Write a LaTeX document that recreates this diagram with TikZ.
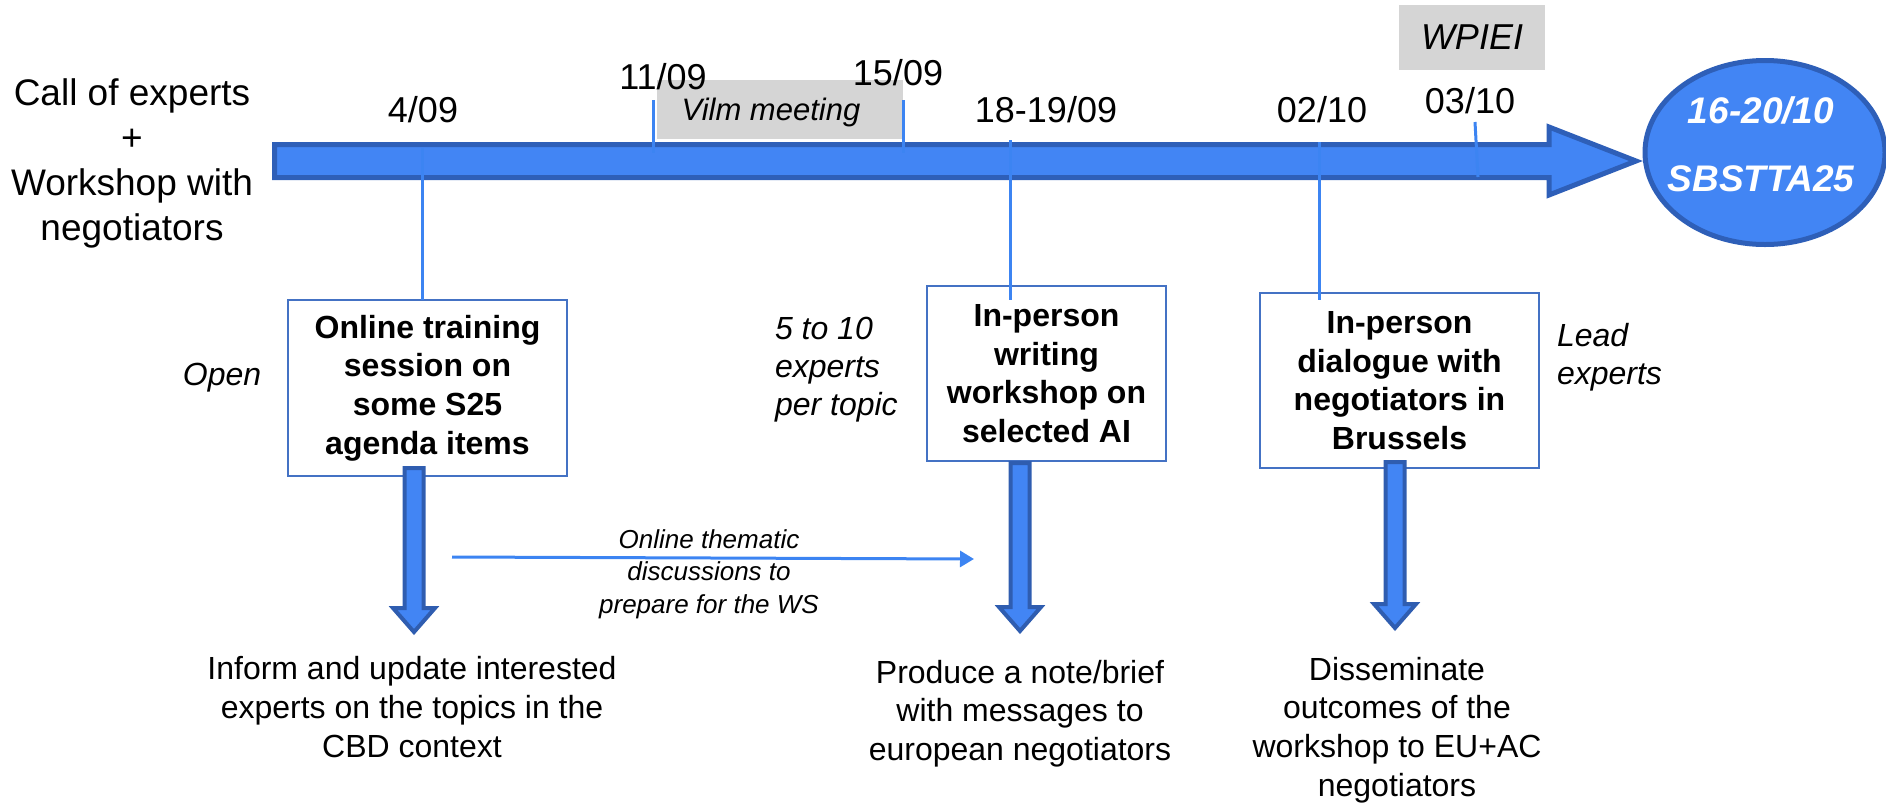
\documentclass[tikz,border=0pt]{standalone}
\usepackage{fontspec}
\setmainfont{Liberation Sans}
\usetikzlibrary{shapes.geometric,arrows.meta,calc}
\definecolor{tlfill}{HTML}{4285F4}
\definecolor{tlline}{HTML}{2E5FB8}
\definecolor{tickc}{HTML}{3C84F2}
\definecolor{boxline}{HTML}{4472C4}
\definecolor{greyc}{HTML}{D5D5D5}
\definecolor{arrfill}{HTML}{4285F4}
\definecolor{arrline}{HTML}{2F5DB0}
\begin{document}
\begin{tikzpicture}[x=0.5pt,y=-0.5pt,
  every node/.style={inner sep=0pt, outer sep=0pt},
  datelbl/.style={font=\fontsize{18pt}{21pt}\selectfont, anchor=base},
  boxnode/.style={draw=boxline, line width=1pt, fill=white, align=center, font=\fontsize{16pt}{19.3pt}\selectfont\bfseries},
  sidelbl/.style={font=\fontsize{16pt}{19pt}\selectfont\itshape},
  outlbl/.style={align=center, font=\fontsize{16pt}{19.3pt}\selectfont},
  tickline/.style={draw=tickc, line width=1.5pt},
  greybox/.style={fill=greyc},
  downarr/.style={fill=arrfill, draw=arrline, line width=2pt, line join=miter},
]
\useasboundingbox (0,0) rectangle (1886,804);

% left text
\node[align=center, font=\fontsize{18.5pt}{22.5pt}\selectfont] (start) at (132,163) {Call of experts\\+\\Workshop with\\negotiators};

% grey boxes
\node[greybox, minimum width=123pt, minimum height=29.5pt] (vilm) at (780,109.5) {};
\node[font=\fontsize{15.5pt}{18pt}\selectfont\itshape] (vilmtxt) at (771,112) {Vilm meeting};
\node[greybox, minimum width=73pt, minimum height=32.5pt] (wpiei) at (1472,37.5) {};
\node[font=\fontsize{18pt}{21pt}\selectfont\itshape] (wpieitxt) at (1472,37.5) {WPIEI};

% timeline arrow
\draw[fill=tlfill, draw=tlline, line width=2.5pt, line join=miter]
  (274.5,144.5) -- (1549,144.5) -- (1549,127) -- (1636,161) -- (1549,195) -- (1549,177.5) -- (274.5,177.5) -- cycle;

% goal ellipse
\node[ellipse, fill=tlfill, draw=tlline, line width=2.5pt, minimum width=120pt, minimum height=92pt] (goal) at (1765,152.5) {};
\node[align=center, text=white, font=\fontsize{18.5pt}{34pt}\selectfont\bfseries\itshape] (goaltxt) at (1761,144) {16-20/10\\SBSTTA25};

% dates
\node[datelbl] (d1) at (423,122) {4/09};
\node[datelbl] (d2) at (663,89) {11/09};
\node[datelbl] (d3) at (898,85) {15/09};
\node[datelbl] (d4) at (1046,122) {18-19/09};
\node[datelbl] (d5) at (1322,122) {02/10};
\node[datelbl] (d6) at (1470,113) {03/10};

% boxes
\node[boxnode, minimum width=139.5pt, minimum height=88pt] (b1) at (427.5,388) {Online training\\session on\\some S25\\agenda items};
\node[boxnode, minimum width=119.5pt, minimum height=87.5pt] (b2) at (1046.5,373.5) {In-person\\writing\\workshop on\\selected AI};
\node[boxnode, minimum width=139.5pt, minimum height=87.5pt] (b3) at (1399.5,380.5) {In-person\\dialogue with\\negotiators in\\Brussels};

% ticks
\coordinate (t1) at (422,148);
\draw[tickline] (t1) -- (t1 |- b1.north);
\coordinate (t2a) at (653,100); \coordinate (t2b) at (653,153);
\draw[tickline] (t2a) -- (t2b);
\coordinate (t3a) at (903,100); \coordinate (t3b) at (903,153);
\draw[tickline] (t3a) -- (t3b);
\coordinate (t4) at (1010,140);
\draw[tickline] (t4) -- ($(t4 |- b2.north)+(0,14)$);
\coordinate (t5) at (1319,142);
\draw[tickline] (t5) -- ($(t5 |- b3.north)+(0,7)$);
\coordinate (t6a) at (1475,122); \coordinate (t6b) at (1478,177);
\draw[tickline] (t6a) -- (t6b);

% side labels
\node[sidelbl] (open) at (222,378) {Open};
\node[sidelbl, align=left, anchor=west] (ppl) at (775,370) {5 to 10\\experts\\per topic};
\node[sidelbl, align=left, anchor=west] (lead) at (1557,357.5) {Lead\\experts};

% outputs
\node[outlbl] (o1) at (412,707) {Inform and update interested\\experts on the topics in the\\CBD context};
\node[outlbl] (o2) at (1020,713.5) {Produce a note/brief\\with messages to\\european negotiators};
\node[outlbl] (o3) at (1397,730) {Disseminate\\outcomes of the\\workshop to EU+AC\\negotiators};

% block arrows
\coordinate (a1s) at (414,468); \coordinate (a1e) at (414,632);
\coordinate (a2s) at (1020,463); \coordinate (a2e) at (1020,631);
\coordinate (a3s) at (1395,462); \coordinate (a3e) at (1395,628);
\foreach \s/\e in {a1s/a1e, a2s/a2e, a3s/a3e}{
  \draw[downarr] let \p1=(\s), \p2=(\e) in
    (\x1-4.75pt,\y1) -- (\x1+4.75pt,\y1) -- (\x1+4.75pt,\y2+12pt) -- (\x1+10.5pt,\y2+12pt)
    -- (\x2,\y2) -- (\x1-10.5pt,\y2+12pt) -- (\x1-4.75pt,\y2+12pt) -- cycle;
}

% thin arrow
\coordinate (ta1) at (452,557); \coordinate (ta2) at (974,559);
\draw[draw=tickc, line width=1.5pt, -{Triangle[length=7pt,width=8pt]}] (ta1) -- (ta2);
\node[align=center, font=\fontsize{13pt}{16.25pt}\selectfont\itshape] (disc) at (709,574) {Online thematic\\discussions to\\prepare for the WS};
\end{tikzpicture}
\end{document}
